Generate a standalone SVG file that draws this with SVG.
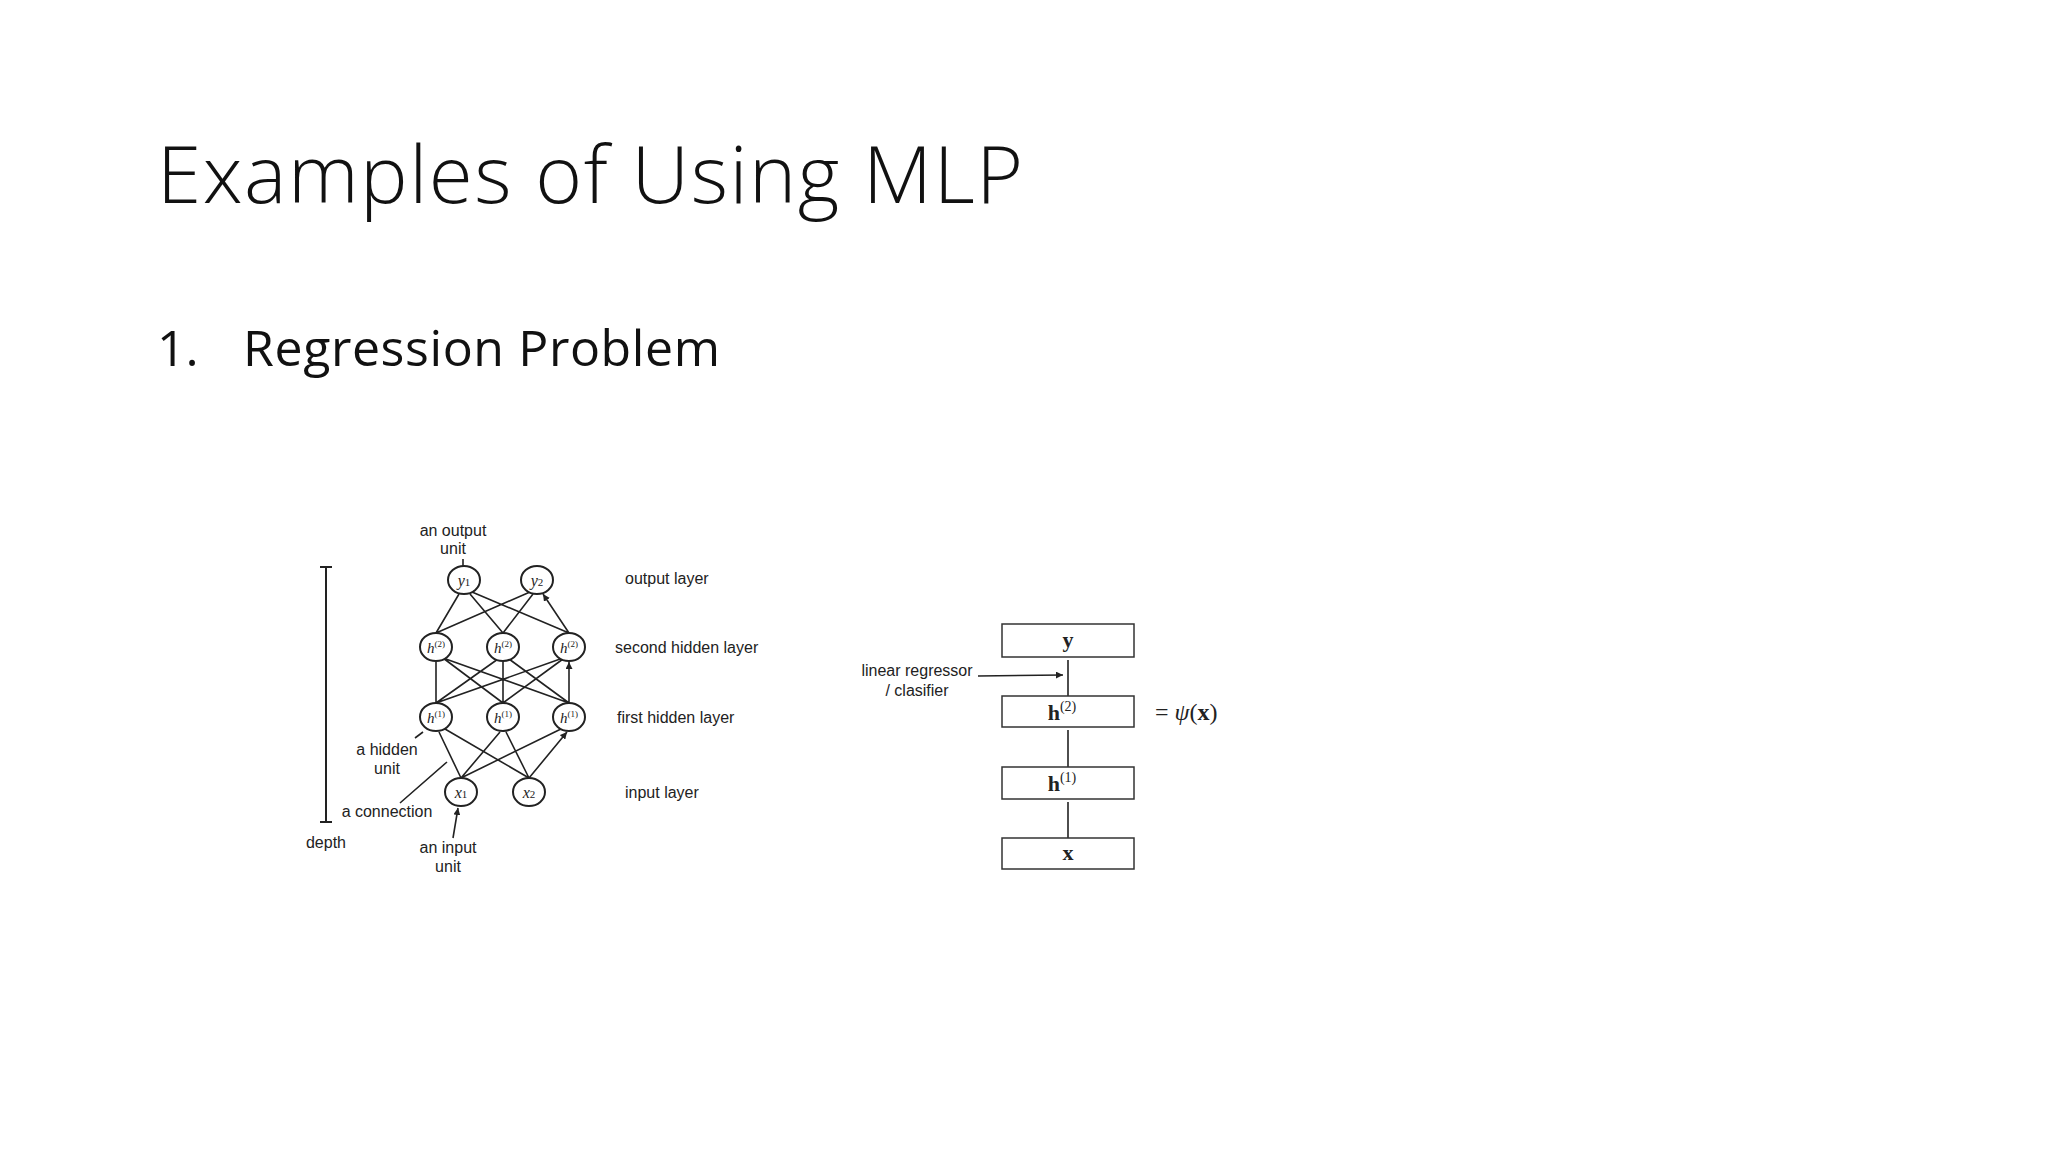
<svg xmlns="http://www.w3.org/2000/svg" width="2048" height="1152" viewBox="0 0 2048 1152">
<style>
.t{font-family:"Liberation Sans",Arial,sans-serif;font-size:16px;fill:#222}
.m{font-family:"Liberation Serif","DejaVu Serif",serif;fill:#222}
.n{fill:#fff;stroke:#222;stroke-width:2}
.e{stroke:#222;stroke-width:1.6;fill:none;marker-end:url(#a)}
.b{fill:#fff;stroke:#333;stroke-width:1.5}
</style>
<defs><marker id="a" viewBox="0 0 10 10" refX="10" refY="5" markerWidth="7" markerHeight="7" orient="auto" markerUnits="userSpaceOnUse"><path d="M0,0L10,5L0,10z" fill="#222"/></marker></defs>
<rect width="2048" height="1152" fill="#fff"/>
<text x="157" y="203" font-family="'Open Sans','Noto Sans',sans-serif" font-weight="300" font-size="80" textLength="866" fill="#111">Examples of Using MLP</text>
<text x="157" y="366" font-family="'Open Sans','Noto Sans',sans-serif" font-size="50" fill="#111">1.</text>
<text x="243" y="366" font-family="'Open Sans','Noto Sans',sans-serif" font-size="50" textLength="477" fill="#111">Regression Problem</text>
<g id="connectors">
<path class="e" d="M461,778L439,732M461,778L500,732M461,778L563,728M529,778L445,729M529,778L506,732M529,778L567,732"/>
<path class="e" d="M436,703L436,662M436,703L498,659M436,703L563,658M503,703L443,658M503,703L503,662M503,703L563,659M569,703L443,658M569,703L509,659M569,703L569,662"/>
<path class="e" d="M436,633L459,594M436,633L530,592M503,633L470,594M503,633L533,594M569,633L472,592M569,633L543,594"/>
<path class="e" d="M463,559L463,566M415,738L423,732M400,803L447,762M453,838L458,808"/>
<path d="M326,567V822M320,567H332M320,822H332" stroke="#222" stroke-width="2"/>
<path class="e" d="M1068,696V660M1068,767V730M1068,838V802M978,676L1063,675"/>
</g>
<g id="y1"><ellipse class="n" cx="464" cy="580" rx="16" ry="14"/><text class="m" x="464" y="586" font-size="16" font-style="italic" text-anchor="middle">y<tspan font-size="11" font-style="normal">1</tspan></text></g>
<g id="y2"><ellipse class="n" cx="537" cy="580" rx="16" ry="14"/><text class="m" x="537" y="586" font-size="16" font-style="italic" text-anchor="middle">y<tspan font-size="11" font-style="normal">2</tspan></text></g>
<g id="h21"><ellipse class="n" cx="436" cy="647" rx="16" ry="14"/><text class="m" x="436" y="653" font-size="15" font-style="italic" text-anchor="middle">h<tspan font-size="9" font-style="normal" dy="-6">(2)</tspan></text></g>
<g id="h22"><ellipse class="n" cx="503" cy="647" rx="16" ry="14"/><text class="m" x="503" y="653" font-size="15" font-style="italic" text-anchor="middle">h<tspan font-size="9" font-style="normal" dy="-6">(2)</tspan></text></g>
<g id="h23"><ellipse class="n" cx="569" cy="647" rx="16" ry="14"/><text class="m" x="569" y="653" font-size="15" font-style="italic" text-anchor="middle">h<tspan font-size="9" font-style="normal" dy="-6">(2)</tspan></text></g>
<g id="h11"><ellipse class="n" cx="436" cy="717" rx="16" ry="14"/><text class="m" x="436" y="723" font-size="15" font-style="italic" text-anchor="middle">h<tspan font-size="9" font-style="normal" dy="-6">(1)</tspan></text></g>
<g id="h12"><ellipse class="n" cx="503" cy="717" rx="16" ry="14"/><text class="m" x="503" y="723" font-size="15" font-style="italic" text-anchor="middle">h<tspan font-size="9" font-style="normal" dy="-6">(1)</tspan></text></g>
<g id="h13"><ellipse class="n" cx="569" cy="717" rx="16" ry="14"/><text class="m" x="569" y="723" font-size="15" font-style="italic" text-anchor="middle">h<tspan font-size="9" font-style="normal" dy="-6">(1)</tspan></text></g>
<g id="x1"><ellipse class="n" cx="461" cy="792" rx="16" ry="14"/><text class="m" x="461" y="798" font-size="16" font-style="italic" text-anchor="middle">x<tspan font-size="11" font-style="normal">1</tspan></text></g>
<g id="x2"><ellipse class="n" cx="529" cy="792" rx="16" ry="14"/><text class="m" x="529" y="798" font-size="16" font-style="italic" text-anchor="middle">x<tspan font-size="11" font-style="normal">2</tspan></text></g>
<g id="labels1">
<text class="t" x="453" y="536" text-anchor="middle">an output</text>
<text class="t" x="453" y="554" text-anchor="middle">unit</text>
<text class="t" x="625" y="584">output layer</text>
<text class="t" x="615" y="653">second hidden layer</text>
<text class="t" x="617" y="723">first hidden layer</text>
<text class="t" x="625" y="798">input layer</text>
<text class="t" x="387" y="755" text-anchor="middle">a hidden</text>
<text class="t" x="387" y="774" text-anchor="middle">unit</text>
<text class="t" x="387" y="817" text-anchor="middle">a connection</text>
<text class="t" x="326" y="848" text-anchor="middle">depth</text>
<text class="t" x="448" y="853" text-anchor="middle">an input</text>
<text class="t" x="448" y="872" text-anchor="middle">unit</text>
</g>
<g id="by"><rect class="b" x="1002" y="624" width="132" height="33"/><text class="m" x="1068" y="647" font-size="22" font-weight="bold" text-anchor="middle">y</text></g>
<g id="bh2"><rect class="b" x="1002" y="696" width="132" height="31"/><text class="m" x="1062" y="720" font-size="22" font-weight="bold" text-anchor="middle">h<tspan font-size="14" font-weight="normal" dy="-9">(2)</tspan></text></g>
<g id="bh1"><rect class="b" x="1002" y="767" width="132" height="32"/><text class="m" x="1062" y="791" font-size="22" font-weight="bold" text-anchor="middle">h<tspan font-size="14" font-weight="normal" dy="-9">(1)</tspan></text></g>
<g id="bx"><rect class="b" x="1002" y="838" width="132" height="31"/><text class="m" x="1068" y="860" font-size="22" font-weight="bold" text-anchor="middle">x</text></g>
<text class="m" x="1155" y="720" font-size="24">= <tspan font-style="italic">ψ</tspan>(<tspan font-weight="bold">x</tspan>)</text>
<text class="t" x="917" y="676" text-anchor="middle">linear regressor</text>
<text class="t" x="917" y="696" text-anchor="middle">/ clasifier</text>
</svg>
